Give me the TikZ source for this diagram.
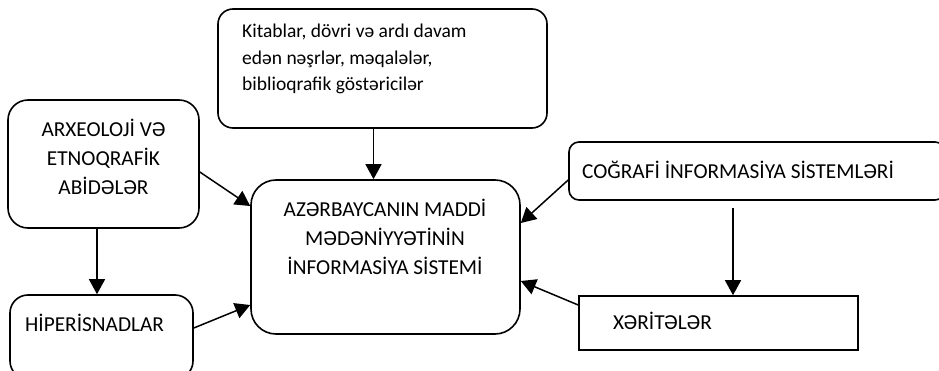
\documentclass[tikz,border=0pt]{standalone}
\usepackage{fontspec}
\setmainfont{Carlito}
\usetikzlibrary{arrows.meta}
\tikzset{
  box/.style={draw, line width=1.6pt, inner sep=0pt},
  txt/.style={inner sep=0pt, font=\fontsize{21.3}{29}\selectfont, align=center},
  conn/.style={line width=1.5pt, -{Triangle[length=15pt,width=16pt]}}
}
\begin{document}
\begin{tikzpicture}[x=1pt,y=-1pt]
\useasboundingbox (0,0) rectangle (939,371);
\clip (0,0) rectangle (939,371);
% boxes
\node[box, rounded corners=15pt, minimum width=329pt, minimum height=119pt] (kit) at (382.5,68.5) {};
\node[box, rounded corners=20pt, minimum width=191pt, minimum height=128pt] (arx) at (103.5,164) {};
\node[box, rounded corners=25pt, minimum width=269pt, minimum height=154pt] (cen) at (385.5,257) {};
\node[box, rounded corners=10pt, minimum width=376pt, minimum height=58pt] (cog) at (757,171) {};
\node[box, minimum width=279pt, minimum height=54pt] (xer) at (718.5,323) {};
\node[box, rounded corners=18pt, minimum width=183pt, minimum height=84pt] (hip) at (101.5,337) {};
% texts
\node[txt, align=left, anchor=north west, font=\fontsize{19.5}{26.5}\selectfont] (tkit) at (242,24) {Kitablar, dövri və ardı davam\\edən nəşrlər, məqalələr,\\biblioqrafik göstəricilər};
\node[txt, anchor=north] (tarx) at (103.5,119) {ARXEOLOJİ VƏ\\ETNOQRAFİK\\ABİDƏLƏR};
\node[txt, anchor=north] (tcen) at (385,199) {AZƏRBAYCANIN MADDİ\\MƏDƏNİYYƏTİNİN\\İNFORMASİYA SİSTEMİ};
\node[txt, anchor=west] (tcog) at (582,170) {COĞRAFİ İNFORMASİYA SİSTEMLƏRİ};
\node[txt, anchor=west] (txer) at (613,321) {XƏRİTƏLƏR};
\node[txt, anchor=west] (thip) at (25,323) {HİPERİSNADLAR};
% connectors
\draw[conn] ([yshift=-8pt]arx.east) -- ([yshift=51pt]cen.west);
\draw[conn] ([xshift=-9pt]kit.south) -- ([xshift=-9pt]kit.south |- cen.north);
\draw[conn] ([xshift=-6.5pt]arx.south) -- ([xshift=-6.5pt]arx.south |- hip.north);
\draw[conn] ([yshift=9pt]hip.east) -- ([yshift=-48pt]cen.west);
\draw[conn] ([yshift=-9pt]cog.west) -- ([yshift=34pt]cen.east);
\draw[conn, shorten <=7pt] ([xshift=-24pt]cog.south) -- ([xshift=-24pt]cog.south |- xer.north);
\draw[conn] ([yshift=18pt]xer.west) -- ([yshift=-24pt]cen.east);
\end{tikzpicture}
\end{document}
